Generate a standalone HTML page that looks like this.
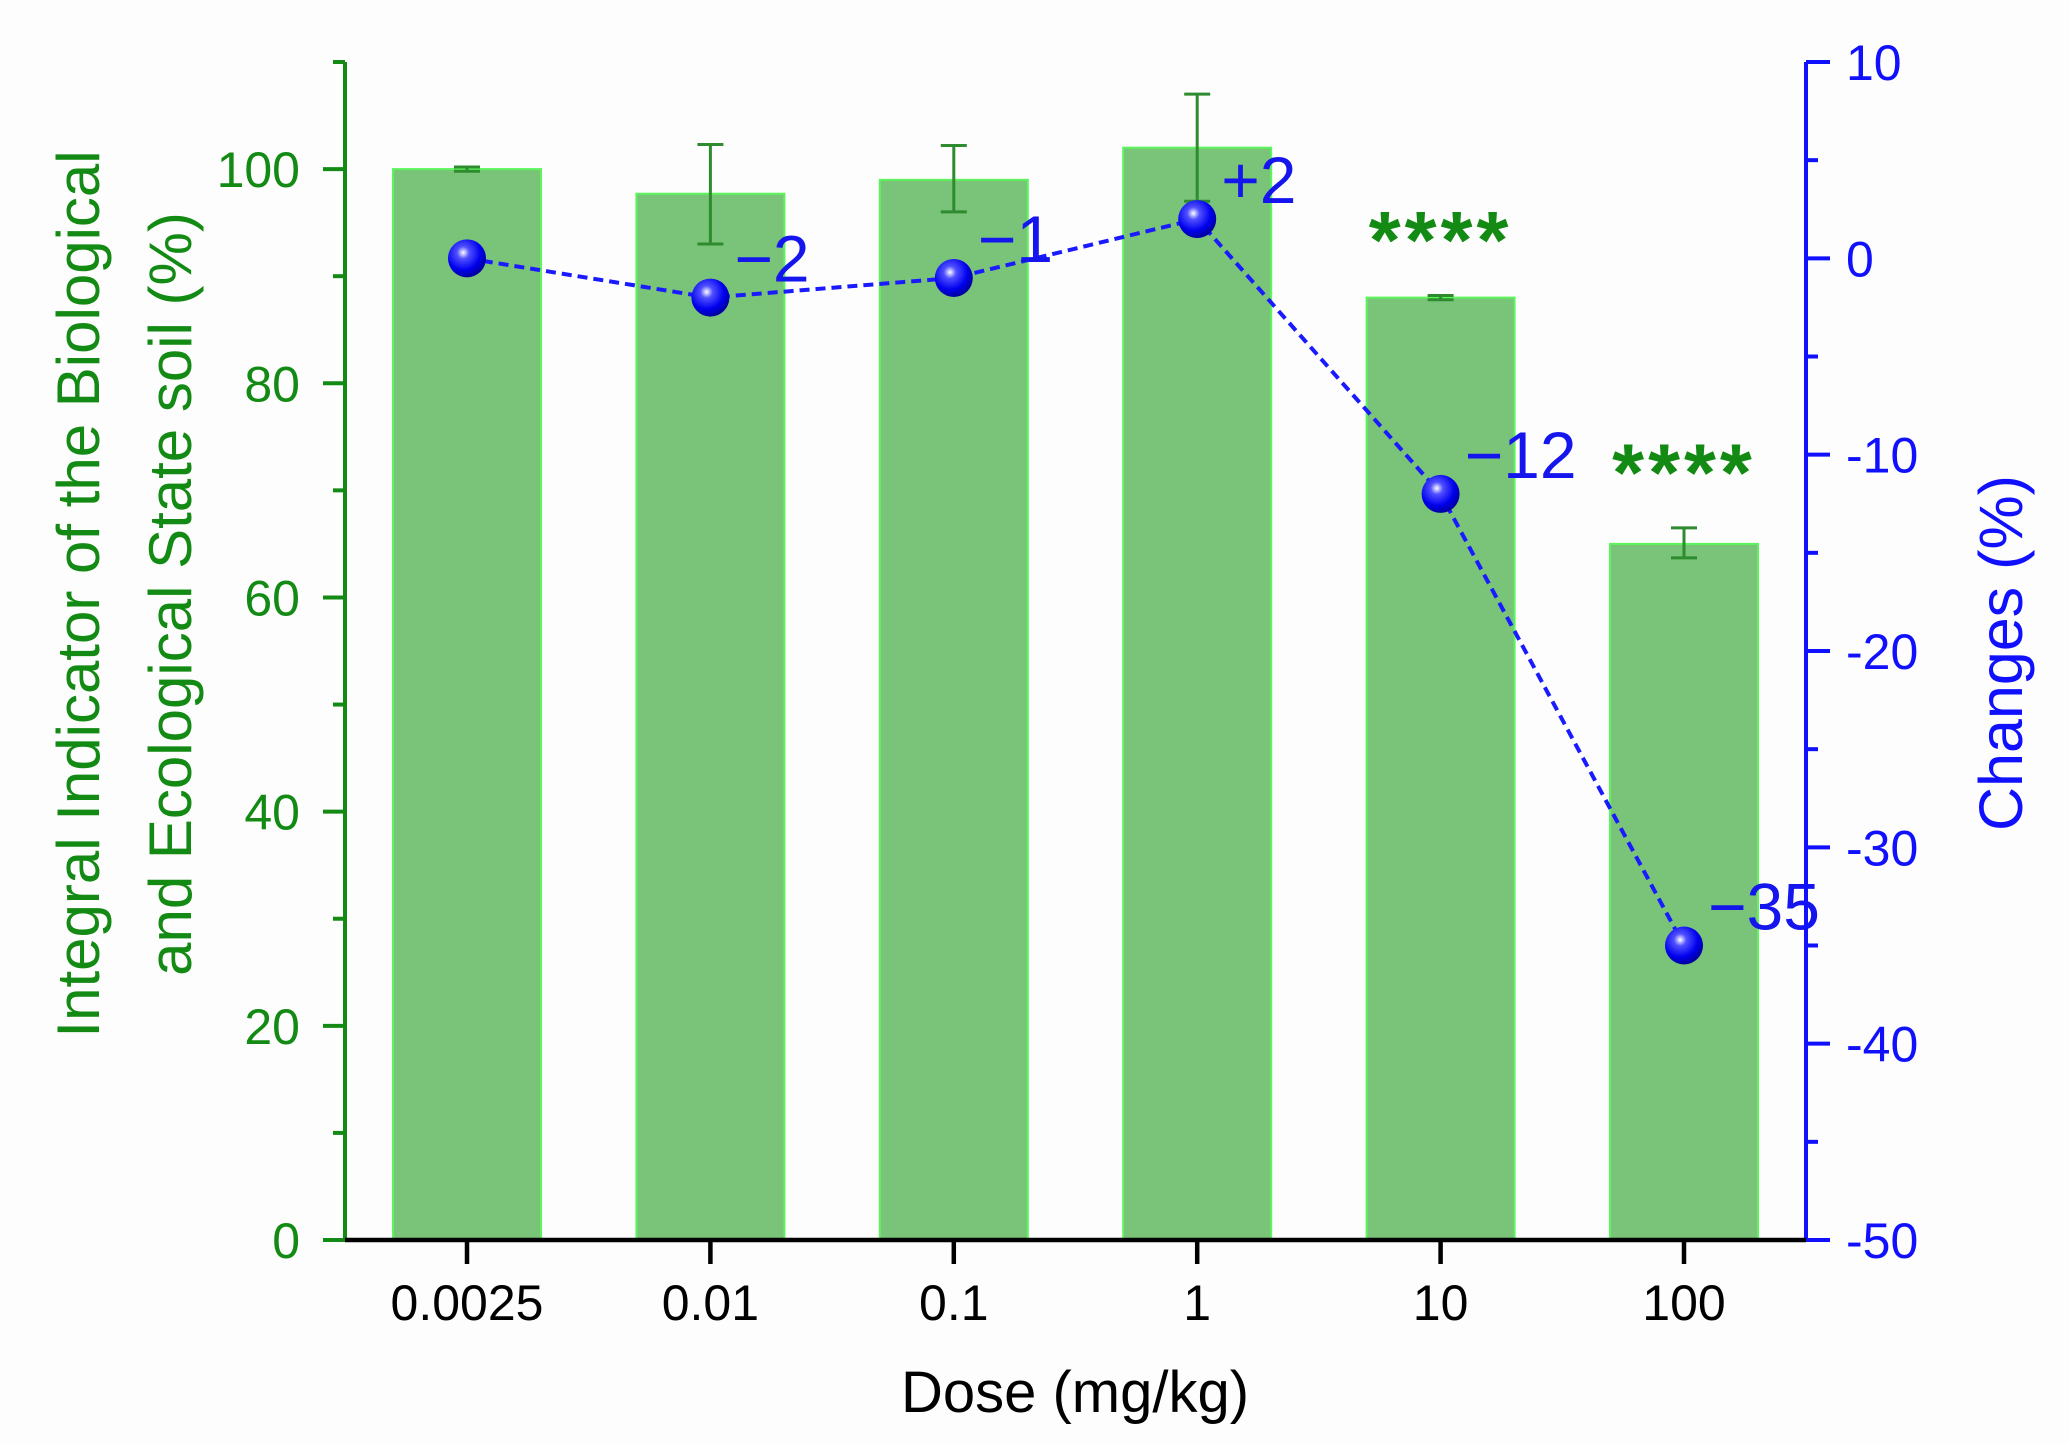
<!DOCTYPE html>
<html><head><meta charset="utf-8"><style>
html,body{margin:0;padding:0;background:#fdfdfd;}
svg{display:block;font-family:"Liberation Sans",Arial,sans-serif;}
</style></head><body>
<svg id="chart" width="2069" height="1443" viewBox="0 0 2069 1443"></svg>
<script>
const categories = ["0.0025","0.01","0.1","1","10","100"];
const barValues = [100, 97.7, 99, 102, 88, 65];
const errUpper = [100.2, 102.3, 102.2, 107, 88.2, 66.5];
const errLower = [99.8, 93, 96, 97, 87.8, 63.7];
const changes = [0, -2, -1, 2, -12, -35];
const changeLabels = ["", "\u22122", "\u22121", "+2", "\u221212", "\u221235"];
const stars = ["", "", "", "", "****", "****"];
const leftTicks = [0, 20, 40, 60, 80, 100];
const rightTicks = [-50, -40, -30, -20, -10, 0, 10];

const NS = "http://www.w3.org/2000/svg";
const svg = document.getElementById("chart");
const X0 = 345, X1 = 1806, YB = 1240, YT = 62;
const yL = v => YB - (v / 110) * (YB - YT);
const yR = v => YB - ((v + 50) / 60) * (YB - YT);
const xC = i => 467 + i * 243.4;
const BW = 148;
function mk(tag, attrs, parent) {
  const e = document.createElementNS(NS, tag);
  for (const k in attrs) e.setAttribute(k, attrs[k]);
  (parent || svg).appendChild(e);
  return e;
}
const defs = mk("defs", {});
const g = mk("radialGradient", {id: "ball", cx: "0.4", cy: "0.35", r: "0.65"}, defs);
mk("stop", {offset: "0", "stop-color": "#ffffff"}, g);
mk("stop", {offset: "0.25", "stop-color": "#5050ff"}, g);
mk("stop", {offset: "0.7", "stop-color": "#0000ee"}, g);
mk("stop", {offset: "1", "stop-color": "#0000a0"}, g);

// bars
categories.forEach((c, i) => {
  const r = mk("rect", {x: xC(i) - BW / 2, y: yL(barValues[i]), width: BW, height: YB - yL(barValues[i]), fill: "#79c479", stroke: "#5cf55c", "stroke-width": 2});
  
  
  const eb = mk("g", {stroke: "#2e8b2e", "stroke-width": 3, fill: "none"});
  
  
  mk("line", {x1: xC(i), x2: xC(i), y1: yL(errUpper[i]), y2: yL(errLower[i])}, eb);
  mk("line", {x1: xC(i) - 13, x2: xC(i) + 13, y1: yL(errUpper[i]), y2: yL(errUpper[i])}, eb);
  mk("line", {x1: xC(i) - 13, x2: xC(i) + 13, y1: yL(errLower[i]), y2: yL(errLower[i])}, eb);
  if (stars[i]) {
    const s = mk("text", {x: xC(i), y: yL(errUpper[i]) - 27, "text-anchor": "middle", "font-size": 82, "font-weight": "bold", "letter-spacing": 4, fill: "#138a13"});
    s.textContent = stars[i];
    
    
  }
});

// line
const pts = changes.map((v, i) => xC(i) + "," + yR(v)).join(" ");
const pl = mk("polyline", {points: pts, fill: "none", stroke: "#1a1aff", "stroke-width": 4, "stroke-dasharray": "10,6"});


changes.forEach((v, i) => {
  const m = mk("ellipse", {cx: xC(i), cy: yR(v), rx: 19, ry: 19, fill: "url(#ball)"});
  
  
  if (changeLabels[i]) {
    const t = mk("text", {x: xC(i) + 24, y: yR(v) - 16, "font-size": 66, fill: "#1515ee"});
    t.textContent = changeLabels[i];
    
    
  }
});

// left axis
const la = mk("g", {stroke: "#138a13", "stroke-width": 4});


mk("line", {x1: X0, x2: X0, y1: YT, y2: YB}, la);
mk("line", {x1: X0 - 12, x2: X0, y1: YT, y2: YT}, la);
for (let v = 0; v <= 110; v += 10) {
  const major = v % 20 === 0;
  mk("line", {x1: X0 - (major ? 22 : 12), x2: X0, y1: yL(v), y2: yL(v)}, la);
}
leftTicks.forEach(v => {
  const t = mk("text", {x: 300, y: yL(v) + 18, "text-anchor": "end", "font-size": 50, fill: "#138a13"});
  t.textContent = v;
  
  
});
const lt = mk("text", {transform: "translate(99,594) rotate(-90)", "text-anchor": "middle", "font-size": 60, fill: "#138a13"});


const s1 = mk("tspan", {x: 0, y: 0}, lt); s1.textContent = "Integral Indicator of the Biological";
const s2 = mk("tspan", {x: 0, y: 92}, lt); s2.textContent = "and Ecological State soil (%)";

// right axis
const ra = mk("g", {stroke: "#1010ff", "stroke-width": 4});


mk("line", {x1: X1, x2: X1, y1: YT, y2: YB}, ra);
for (let v = -50; v <= 10; v += 5) {
  const major = v % 10 === 0;
  mk("line", {x1: X1, x2: X1 + (major ? 24 : 12), y1: yR(v), y2: yR(v)}, ra);
}
rightTicks.forEach(v => {
  const t = mk("text", {x: 1846, y: yR(v) + 18, "font-size": 50, fill: "#1010ff"});
  t.textContent = v;
  
  
});
const rt = mk("text", {transform: "translate(2022,653) rotate(-90)", "text-anchor": "middle", "font-size": 61, fill: "#1010ff"});
rt.textContent = "Changes (%)";



// x axis
const xa = mk("g", {stroke: "#000", "stroke-width": 4.5});


mk("line", {x1: X0, x2: X1, y1: YB, y2: YB}, xa);
categories.forEach((c, i) => {
  mk("line", {x1: xC(i), x2: xC(i), y1: YB, y2: YB + 24}, xa);
  const t = mk("text", {x: xC(i), y: 1320, "text-anchor": "middle", "font-size": 50, fill: "#000"});
  t.textContent = c;
  
  
});
const xt = mk("text", {x: 1075, y: 1412, "text-anchor": "middle", "font-size": 58, fill: "#000"});
xt.textContent = "Dose (mg/kg)";


</script>
</body></html>
